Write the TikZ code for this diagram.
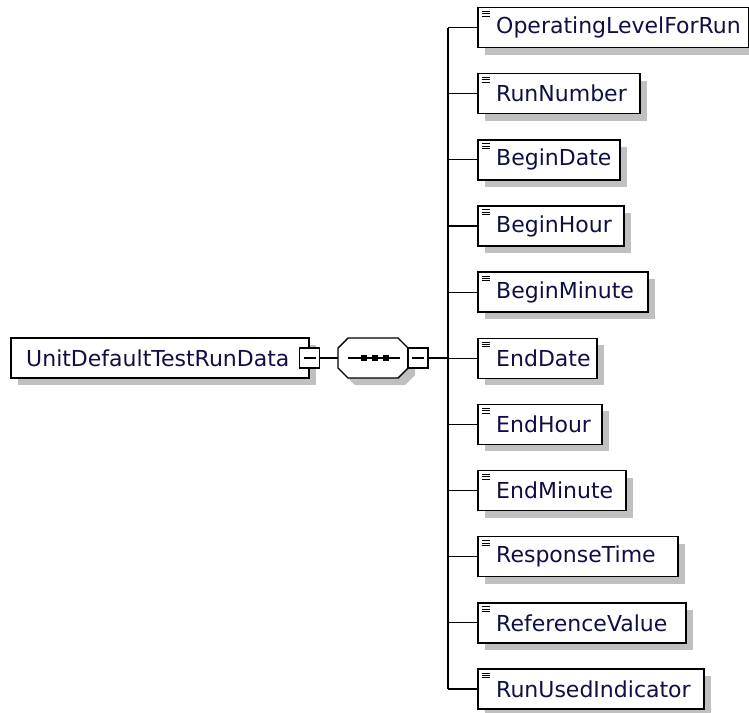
\documentclass[tikz,border=0pt]{standalone}
\usepackage{fontspec}
\setmainfont{DejaVu Sans}
\definecolor{shadowgray}{RGB}{192,192,192}
\definecolor{txtblue}{RGB}{15,15,70}
\tikzset{
  shadowed/.style={preaction={fill=shadowgray,draw=none,transform canvas={shift={(7pt,-7pt)}}}},
  elembox/.style={draw=black,line width=1.5pt,fill=white,rectangle,minimum height=40pt,inner sep=0pt,anchor=west,shadowed},
  elemtext/.style={anchor=west,inner sep=0pt,text=txtblue,font=\fontsize{22}{25}\selectfont},
  minusbox/.style={draw=black,line width=1.2pt,fill=white,rectangle,minimum width=20pt,minimum height=20pt,inner sep=0pt},
  seqshape/.style={draw=black,line width=1.4pt,fill=white,shadowed},
  conn/.style={draw=black,line width=1.2pt},
  dot/.style={fill=black,rectangle,minimum width=6pt,minimum height=6pt,inner sep=0pt}
}
\begin{document}
\begin{tikzpicture}[x=1pt,y=-1pt]
\useasboundingbox (0,0) rectangle (749,712);
% root element
\node[elembox,minimum width=298pt] (root) at (10,358) {};
\node[elemtext] (roottext) at (26,358) {UnitDefaultTestRunData};
\node[minusbox] (m1) at (root.east) {};
\draw[line width=1.2pt] ([xshift=-6pt]m1.center) -- ([xshift=6pt]m1.center);
% sequence compositor
\coordinate (seqW) at (338,358);
\coordinate (seqE) at (408,358);
\path[seqshape] (348,338) -- (398,338) -- (408,348) -- (408,368) -- (398,378) -- (348,378) -- (338,368) -- (338,348) -- cycle;
\draw[conn] (m1.east) -- (seqW);
\coordinate (seqL) at (348,358);
\coordinate (seqR) at (400,358);
\draw[conn] (seqL) -- (seqR);
\node[dot] (d1) at (364,358) {};
\node[dot] (d2) at (374.5,358) {};
\node[dot] (d3) at (385.5,358) {};
\node[minusbox] (m2) at (418,358) {};
\draw[line width=1.2pt] ([xshift=-6pt]m2.center) -- ([xshift=6pt]m2.center);
\coordinate (spine) at (448,358);
\draw[conn] (m2.east) -- (spine);
% children
\foreach \i/\name/\w in {
  1/OperatingLevelForRun/271,
  2/RunNumber/162,
  3/BeginDate/142,
  4/BeginHour/146,
  5/BeginMinute/170,
  6/EndDate/119,
  7/EndHour/124,
  8/EndMinute/148,
  9/ResponseTime/200,
  10/ReferenceValue/208,
  11/RunUsedIndicator/226}{
  \pgfmathsetmacro{\cy}{27.5+66.15*(\i-1)}
  \node[elembox,minimum width=\w pt] (c\i) at (477,\cy) {};
  \node[elemtext] (t\i) at (496,\cy) {\name};
  \draw[line width=0.9pt] ([xshift=4.5pt,yshift=-4.7pt]c\i.north west) -- ([xshift=13pt,yshift=-4.7pt]c\i.north west)
     ([xshift=4.5pt,yshift=-7pt]c\i.north west) -- ([xshift=13pt,yshift=-7pt]c\i.north west)
     ([xshift=4.5pt,yshift=-9.3pt]c\i.north west) -- ([xshift=13pt,yshift=-9.3pt]c\i.north west);
  \draw[conn] (c\i.west -| spine) -- (c\i.west);
}
\draw[conn] (c1.west -| spine) -- (c11.west -| spine);
\end{tikzpicture}
\end{document}
